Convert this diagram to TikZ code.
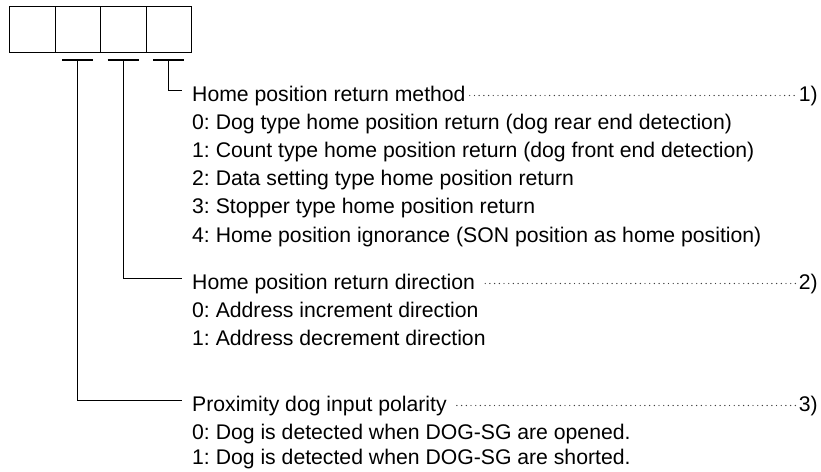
\documentclass[tikz,border=0pt]{standalone}
\usepackage{fontspec}
\setmainfont{Liberation Sans}
\usetikzlibrary{calc}
\begin{document}
\frenchspacing
\begin{tikzpicture}[x=1pt,y=-1pt,
  txt/.style={inner sep=0pt, anchor=base west, font=\fontsize{21.2}{24}\selectfont},
  lbl/.style={inner sep=0pt, anchor=base east, font=\fontsize{21.2}{24}\selectfont},
  cell/.style={draw, line width=1.3pt, minimum width=45.5pt, minimum height=46pt, inner sep=0pt, anchor=north west},
  bar/.style={line width=1.8pt},
  conn/.style={line width=1pt},
  leader/.style={line width=1.4pt, line cap=round, dash pattern=on 0pt off 4.7pt, black!75}]
\useasboundingbox (0,0) rectangle (821,471);
% digit cells
\node[cell] (c1) at (9,6) {};
\node[cell] (c2) at (54.5,6) {};
\node[cell] (c3) at (100,6) {};
\node[cell] (c4) at (145.5,6) {};
% bars under cells
\coordinate (b2) at (77.5,60);
\coordinate (b3) at (123,60);
\coordinate (b4) at (168,60);
\draw[bar] (62,60) -- (93,60);
\draw[bar] (107.5,60) -- (138.5,60);
\draw[bar] (153,60) -- (183.5,60);
% corner points
\coordinate (k1) at (168,90);
\coordinate (k2) at (123,278);
\coordinate (k3) at (77.5,400);
\coordinate (e1) at (182,90);
\coordinate (e2) at (182,278);
\coordinate (e3) at (182,400);
\draw[conn] (b4) -- (k1) -- (e1);
\draw[conn] (b3) -- (k2) -- (e2);
\draw[conn] (b2) -- (k3) -- (e3);
% texts
\node[txt] (t1) at (192,101) {Home position return method};
\node[txt] (t10) at (192,129.2) {0: Dog type home position return (dog rear end detection)};
\node[txt] (t11) at (192,157.4) {1: Count type home position return (dog front end detection)};
\node[txt] (t12) at (192,185.6) {2: Data setting type home position return};
\node[txt] (t13) at (192,213.8) {3: Stopper type home position return};
\node[txt] (t14) at (192,242) {4: Home position ignorance (SON position as home position)};
\node[txt] (t2) at (192,289) {Home position return direction};
\node[txt] (t20) at (192,317) {0: Address increment direction};
\node[txt] (t21) at (192,345) {1: Address decrement direction};
\node[txt] (t3) at (192,411) {Proximity dog input polarity};
\node[txt] (t30) at (192,439) {0: Dog is detected when DOG-SG are opened.};
\node[txt] (t31) at (192,464) {1: Dog is detected when DOG-SG are shorted.};
\node[lbl] (n1) at (818,101) {1)};
\node[lbl] (n2) at (818,289) {2)};
\node[lbl] (n3) at (818,411) {3)};
\draw[leader] ($(t1.base east)+(4,-5.5)$) -- ($(n1.base west)+(-1,-5.5)$);
\draw[leader] ($(t2.base east)+(10,-5.5)$) -- ($(n2.base west)+(-1,-5.5)$);
\draw[leader] ($(t3.base east)+(10,-5.5)$) -- ($(n3.base west)+(-1,-5.5)$);
\end{tikzpicture}
\end{document}
